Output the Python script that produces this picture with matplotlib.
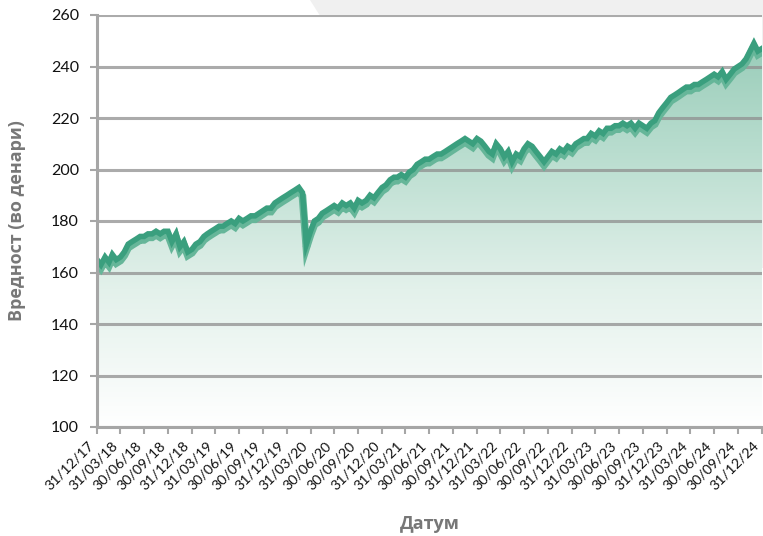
import matplotlib
matplotlib.use("Agg")
import matplotlib.pyplot as plt
import matplotlib.dates as mdates
import matplotlib.patheffects as pe
import matplotlib.transforms as mtransforms
from matplotlib.colors import LinearSegmentedColormap
from matplotlib.patches import Polygon
import numpy as np
import pandas as pd

# semi-monthly readings, 31/12/17 .. 31/12/24 (values in denars)
values = [
    165, 163, 166, 164, 167, 165, 166, 168, 171, 172,
    173, 174, 174, 175, 175, 176, 175, 176, 176, 172,
    175, 170, 172, 168, 169, 171, 172, 174, 175, 176,
    177, 178, 178, 179, 180, 179, 181, 180, 181, 182,
    182, 183, 184, 185, 185, 187, 188, 189, 190, 191,
    192, 193, 191, 171, 176, 180, 181, 183, 184, 185,
    186, 185, 187, 186, 187, 185, 188, 187, 188, 190,
    189, 191, 193, 194, 196, 197, 197, 198, 197, 199,
    200, 202, 203, 204, 204, 205, 206, 206, 207, 208,
    209, 210, 211, 212, 211, 210, 212, 211, 209, 207,
    206, 210, 208, 205, 207, 203, 206, 205, 208, 210,
    209, 207, 205, 203, 205, 207, 206, 208, 207, 209,
    208, 210, 211, 212, 212, 214, 213, 215, 214, 216,
    216, 217, 217, 218, 217, 218, 216, 218, 217, 216,
    218, 219, 222, 224, 226, 228, 229, 230, 231, 232,
    232, 233, 233, 234, 235, 236, 237, 236, 238, 235,
    237, 239, 240, 241, 243, 246, 249, 246, 247,
]
dates = pd.date_range("2017-12-31", periods=len(values), freq="SME")
tick_dates = pd.date_range("2017-12-31", "2024-12-31", freq="QE")
tick_labels = [d.strftime("%d/%m/%y") for d in tick_dates]
y_ticks = [100, 120, 140, 160, 180, 200, 220, 240, 260]

fig = plt.figure(figsize=(7.63, 5.36), dpi=100)
# light grey decoration behind the plot, top right
fig.patches.append(Polygon([[310/763, 1], [1, 1], [1, 0.5], [480/763, 0.5]],
                           closed=True, transform=fig.transFigure,
                           facecolor="#f0f0f0", edgecolor="none", zorder=-5))
ax = fig.add_axes([97/763, 109/536, 665/763, 412/536])
ax.set_zorder(2)
ax.set_facecolor("white")

x = mdates.date2num(dates)
xmin, xmax = mdates.date2num(tick_dates[0]), mdates.date2num(tick_dates[-1])

# gradient fill under the line
cmap = LinearSegmentedColormap.from_list("g", ["#ffffff", "#e3f1eb", "#b9ddcf", "#92c9b4"])
grad = np.linspace(0, 1, 256).reshape(-1, 1)
img = ax.imshow(grad, cmap=cmap, aspect="auto", origin="lower",
                extent=[xmin, xmax, 100, 260], zorder=1)
fill = ax.fill_between(x, 100, values, facecolor="none", edgecolor="none")
clip = fill.get_paths()[0]
img.set_clip_path(clip, transform=ax.transData)

# dark top edge with a lighter band underneath
ax.plot(x, values, color="#3a9f7e", lw=4, zorder=4, solid_joinstyle="miter",
        path_effects=[pe.Stroke(offset=(0, -2.5), linewidth=5.5, foreground="#66b699"),
                      pe.Normal()])

ax.set_xlim(xmin, xmax)
ax.set_ylim(100, 260)
ax.set_yticks(y_ticks)
ax.set_xticks(mdates.date2num(tick_dates))

ax.yaxis.grid(True, color="#8f8f8f", lw=2.2, alpha=0.75, zorder=2)
ax.set_axisbelow(False)
for gl in ax.get_ygridlines():
    gl.set_zorder(2)
ax.xaxis.grid(False)

for s in ["top", "right"]:
    ax.spines[s].set_visible(False)
for s in ["left", "bottom"]:
    ax.spines[s].set_color("#a6a6a6")
    ax.spines[s].set_linewidth(2.2)
    ax.spines[s].set_zorder(5)
ax.tick_params(axis="both", colors="#a6a6a6", width=1.5, length=5, labelcolor="#111111")
ax.tick_params(axis="x", pad=7)
ax.tick_params(axis="y", pad=8)

ax.set_xticklabels(tick_labels, rotation=45, ha="right", va="center", rotation_mode="anchor",
                   fontsize=10.3, family=["Lato", "DejaVu Sans"])
shift = mtransforms.ScaledTranslation(-5/100, 0, fig.dpi_scale_trans)
for lab in ax.get_xticklabels():
    lab.set_transform(lab.get_transform() + shift)
for lab in ax.get_yticklabels():
    lab.set_fontsize(11.5)
    lab.set_family(["Lato", "DejaVu Sans"])

ax.set_ylabel("Вредност (во денари)", fontsize=13, fontweight="bold", color="#777777",
              family=["Open Sans", "DejaVu Sans"], labelpad=18)
ax.set_xlabel("Датум", fontsize=13, fontweight="bold", color="#777777",
              family=["Open Sans", "DejaVu Sans"], labelpad=16)

fig.savefig("out.png", dpi=100)
